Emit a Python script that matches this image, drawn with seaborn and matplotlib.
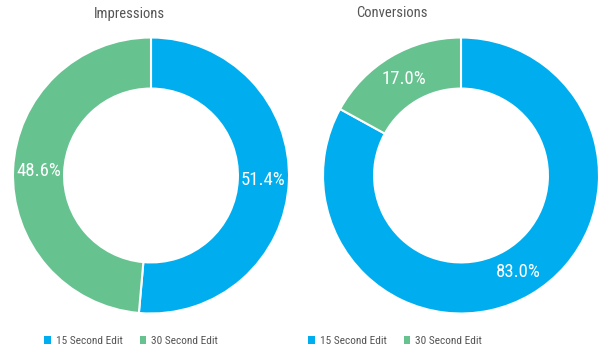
import matplotlib
matplotlib.use("Agg")
import matplotlib.pyplot as plt
import seaborn as sns
from matplotlib.patches import Patch
from matplotlib import font_manager

categories = ["15 Second Edit", "30 Second Edit"]
impressions = [51.4, 48.6]
conversions = [83.0, 17.0]
titles = ["Impressions", "Conversions"]

sns.set_theme(style="white")
names = {f.name for f in font_manager.fontManager.ttflist}
fam = "DejaVu Sans"
for cand in ["Roboto Condensed", "Open Sans Condensed", "Liberation Sans Narrow", "Roboto"]:
    if cand in names:
        fam = cand
        break
plt.rcParams['font.family'] = [fam, 'DejaVu Sans']
colors = sns.color_palette(["#00AEEF", "#66C28F"])
text_col = "#555555"

W, H = 615, 360
fig = plt.figure(figsize=(6.15, 3.6), dpi=100)
positions = [[13/W, 46.5/H, 276/W, 276/H], [323/W, 46.5/H, 276/W, 276/H]]
title_pos = [(129/W, 1 - 14/H), (392/W, 1 - 13/H)]
legend_x = [131/W, 395/W]

for pos, vals, title, tp, lx in zip(positions, [impressions, conversions], titles, title_pos, legend_x):
    ax = fig.add_axes(pos)
    wedges, texts, autotexts = ax.pie(
        vals, colors=colors, startangle=90, counterclock=False,
        radius=1.0, wedgeprops=dict(width=0.37, edgecolor="white", linewidth=1.5),
        autopct=lambda p: f"{p:.1f}%", pctdistance=0.81,
        textprops=dict(color="white", fontsize=13.5))
    ax.set_aspect("equal")
    ax.set_xlim(-1, 1)
    ax.set_ylim(-1, 1)
    fig.text(tp[0], tp[1], title, color=text_col, fontsize=10.5, ha="center", va="center")
    handles = [Patch(facecolor=c, edgecolor="none") for c in colors]
    fig.legend(handles, categories, loc="center", bbox_to_anchor=(lx, 1 - 341/H),
               ncol=2, frameon=False, fontsize=8.2, handlelength=0.6, handleheight=0.6,
               handletextpad=0.4, columnspacing=1.5, labelcolor=text_col)

fig.savefig("out.png", dpi=100, facecolor="white")
